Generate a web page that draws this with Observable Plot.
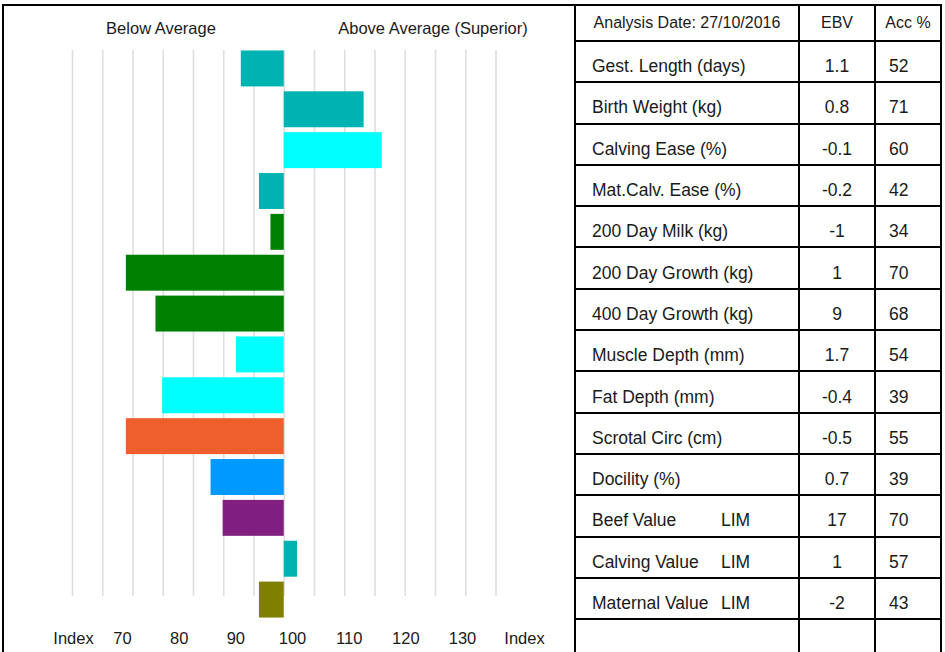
<!DOCTYPE html>
<html>
<head>
<meta charset="utf-8">
<script src="https://cdn.jsdelivr.net/npm/d3@7"></script>
<script src="https://cdn.jsdelivr.net/npm/@observablehq/plot@0.6"></script>
<style>
html, body { margin: 0; padding: 0; background: #fff; }
body { width: 945px; height: 652px; overflow: hidden; position: relative;
       font-family: "Liberation Sans", Arial, sans-serif; color: #1a1a1a; }
#panel { position: absolute; left: 2px; top: 4px; width: 574px; height: 700px;
         border-left: 2px solid #000; border-top: 2px solid #000; box-sizing: border-box; }
#chart { position: absolute; left: 0; top: 0; }
#axis { position: absolute; left: 0; top: 620px; }
.hdr { position: absolute; top: 20px; font-size: 16.5px; line-height: 1; white-space: nowrap;
       transform: translateX(-50%); }
#table { position: absolute; left: 574px; top: 4px; background: #000; padding: 2px;
         display: grid; grid-template-columns: 222px 74px 64px; gap: 2px;
         grid-template-rows: 34px repeat(15, 39.3px); }
#table div { background: #fff; display: flex; align-items: center; box-sizing: border-box;
             white-space: nowrap; }
#table .h { font-size: 16px; justify-content: center; padding-bottom: 1px; }
#table .n { font-size: 17.5px; padding-left: 16px; padding-top: 10px; }
#table .e { font-size: 17.5px; justify-content: center; padding-top: 10px; }
#table .a { font-size: 17.5px; padding-left: 13px; padding-top: 10px; }
.nm { display: inline-block; min-width: 129px; }
</style>
</head>
<body>
<div id="panel"></div>
<div class="hdr" style="left:161px">Below Average</div>
<div class="hdr" style="left:433px">Above Average (Superior)</div>
<div id="chart"></div>
<div id="axis"></div>
<div id="table"></div>
<script>
// ---- data ----
const traits = ["Gest. Length (days)", "Birth Weight (kg)", "Calving Ease (%)", "Mat.Calv. Ease (%)",
  "200 Day Milk (kg)", "200 Day Growth (kg)", "400 Day Growth (kg)", "Muscle Depth (mm)",
  "Fat Depth (mm)", "Scrotal Circ (cm)", "Docility (%)", "Beef Value", "Calving Value", "Maternal Value"];
const traitSuffix = ["", "", "", "", "", "", "", "", "", "", "", "LIM", "LIM", "LIM"];
const indexValues = [92.9, 113.2, 116.2, 95.9, 97.8, 73.9, 78.8, 92.1, 79.9, 73.9, 87.9, 89.9, 102.2, 95.9];
const barColors = ["#00b3b3", "#00b3b3", "#00ffff", "#00b3b3", "#008000", "#008000", "#008000",
  "#00ffff", "#00ffff", "#ee5f2d", "#0099ff", "#801f80", "#00b3b3", "#808000"];
const ebv = ["1.1", "0.8", "-0.1", "-0.2", "-1", "1", "9", "1.7", "-0.4", "-0.5", "0.7", "17", "1", "-2"];
const acc = ["52", "71", "60", "42", "34", "70", "68", "54", "39", "55", "39", "70", "57", "43"];
const gridValues = [65, 70, 75, 80, 85, 90, 95, 100, 105, 110, 115, 120, 125, 130, 135];
const axisTicks = [70, 80, 90, 100, 110, 120, 130];
const baseline = 100;
const headerDate = "Analysis Date: 27/10/2016";
const headerEbv = "EBV";
const headerAcc = "Acc %";
const axisWord = "Index";

// ---- bars ----
const rows = traits.map((t, i) => ({trait: t, value: indexValues[i], color: barColors[i]}));

const chart = Plot.plot({
  width: 575, height: 620,
  marginTop: 48, marginBottom: 0, marginLeft: 72, marginRight: 79.5,
  x: {domain: [65, 135], axis: null},
  y: {domain: traits, axis: null, paddingInner: 0.12, paddingOuter: 0.06, round: false},
  color: {type: "identity"},
  style: {background: "transparent"},
  marks: [
    Plot.ruleX(gridValues, {stroke: "#dedede", strokeWidth: 1.6, insetTop: 2, insetBottom: 24}),
    Plot.barX(rows, {x1: baseline, x2: "value", y: "trait", fill: "color"})
  ]
});
document.getElementById("chart").appendChild(chart);

// ---- bottom index labels ----
const axisPlot = Plot.plot({
  width: 575, height: 32,
  marginTop: 0, marginBottom: 0, marginLeft: 122, marginRight: 113,
  x: {domain: [70, 130], axis: null},
  style: {background: "transparent"},
  marks: [
    Plot.text(axisTicks, {x: d => d, frameAnchor: "middle", dy: 2, fontSize: 16.5, fill: "#1a1a1a",
      fontFamily: "Liberation Sans, Arial, sans-serif"}),
    Plot.text([axisWord], {frameAnchor: "left", dx: -49, dy: 2, textAnchor: "middle", fontSize: 16.5, fill: "#1a1a1a",
      fontFamily: "Liberation Sans, Arial, sans-serif"}),
    Plot.text([axisWord], {frameAnchor: "right", dx: 62, dy: 2, textAnchor: "middle", fontSize: 16.5, fill: "#1a1a1a",
      fontFamily: "Liberation Sans, Arial, sans-serif"})
  ]
});
document.getElementById("axis").appendChild(axisPlot);

// ---- table ----
const table = document.getElementById("table");
function cell(cls, html) {
  const d = document.createElement("div");
  d.className = cls;
  d.innerHTML = html;
  table.appendChild(d);
}
cell("h", headerDate); cell("h", headerEbv); cell("h", headerAcc);
traits.forEach((t, i) => {
  if (traitSuffix[i]) cell("n", `<span class="nm">${t}</span>${traitSuffix[i]}`);
  else cell("n", t);
  cell("e", ebv[i]);
  cell("a", acc[i]);
});
cell("n", ""); cell("e", ""); cell("a", "");
</script>
</body>
</html>
